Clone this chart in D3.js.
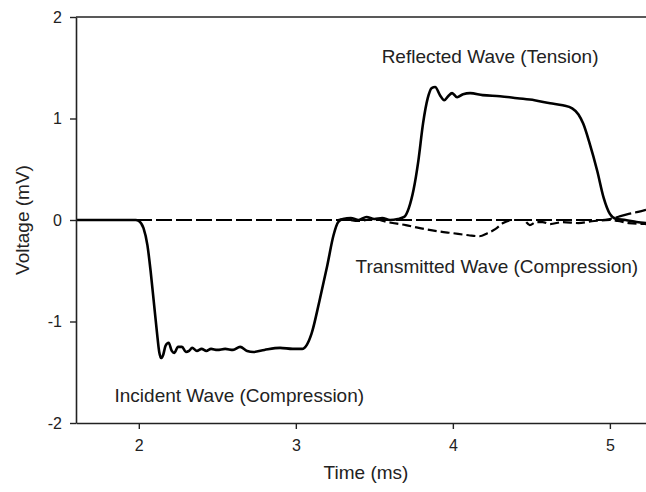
<html lang="en">

<head>
  <meta charset="utf-8">
  <title>Incident, reflected and transmitted waves</title>
  <script type="text/javascript" src="https://d3js.org/d3.v7.min.js"></script>
  <style>
    body { margin: 0; background: #fff; }
    text { font-family: Arial, "Liberation Sans", sans-serif; fill: #222; }
  </style>
</head>

<body>
  <svg width="646" height="492"></svg>
  <script>
    // incident bar gauge (incident + reflected pulse), solid
    const incidentTime = [1.6, 1.98, 2.0, 2.03, 2.055, 2.075, 2.095, 2.115, 2.13, 2.142, 2.155, 2.17, 2.19, 2.21, 2.225,
      2.25, 2.275, 2.3, 2.32, 2.34, 2.37, 2.4, 2.43, 2.46, 2.5, 2.55, 2.6, 2.645, 2.69, 2.73, 2.8, 2.9, 2.98, 3.04,
      3.07, 3.1, 3.15, 3.2, 3.24, 3.27, 3.3, 3.35, 3.4, 3.45, 3.5, 3.55, 3.6, 3.65, 3.69, 3.72, 3.75, 3.78, 3.81,
      3.84, 3.865, 3.887, 3.918, 3.945, 3.97, 3.995, 4.027, 4.065, 4.11, 4.19, 4.3, 4.41, 4.52, 4.62, 4.7, 4.76,
      4.8, 4.83, 4.87, 4.92, 4.96, 5.0, 5.04, 5.1, 5.17, 5.23];
    const incidentVolt = [0, 0, -0.01, -0.08, -0.25, -0.5, -0.8, -1.1, -1.3, -1.36, -1.33, -1.24, -1.21, -1.29, -1.31,
      -1.25, -1.25, -1.3, -1.29, -1.26, -1.29, -1.27, -1.29, -1.27, -1.28, -1.27, -1.28, -1.25, -1.29, -1.3, -1.28,
      -1.26, -1.27, -1.27, -1.23, -1.12, -0.8, -0.45, -0.15, -0.02, 0.01, 0.02, 0.0, 0.03, 0.01, 0.02, 0.0, 0.01,
      0.03, 0.12, 0.3, 0.58, 0.95, 1.2, 1.3, 1.31, 1.23, 1.18, 1.22, 1.25, 1.21, 1.24, 1.25, 1.23, 1.22, 1.2,
      1.18, 1.15, 1.13, 1.1, 1.04, 0.95, 0.76, 0.48, 0.22, 0.06, 0.01, 0.0, -0.02, -0.03];

    // transmitted bar gauge, long dashes
    const transTime = [1.6, 2.5, 3.5, 4.5, 4.95, 5.0, 5.05, 5.12, 5.18, 5.23];
    const transVolt = [0, 0, 0, 0, 0, 0.01, 0.03, 0.06, 0.08, 0.1];

    // second gauge, medium dashes
    const gauge2Time = [3.27, 3.3, 3.4, 3.5, 3.58, 3.7, 3.79, 3.9, 4.0, 4.1, 4.17, 4.22, 4.27, 4.32, 4.38,
      4.45, 4.49, 4.53, 4.57, 4.62, 4.7, 4.8, 4.9, 5.0, 5.05, 5.12, 5.23];
    const gauge2Volt = [0, 0.01, -0.01, 0.01, -0.02, -0.05, -0.08, -0.11, -0.13, -0.15, -0.16, -0.13, -0.09,
      -0.03, 0.0, 0.0, -0.05, -0.02, -0.02, -0.04, -0.02, -0.03, -0.01, 0.0, -0.01, -0.03, -0.04];

    const xTicks = [2, 3, 4, 5];
    const yTicks = [-2, -1, 0, 1, 2];

    const notes = [
      { text: "Reflected Wave (Tension)", t: 4.237, v: 1.55 },
      { text: "Transmitted Wave (Compression)", t: 4.28, v: -0.52 },
      { text: "Incident Wave (Compression)", t: 2.64, v: -1.79 }
    ];

    const plotLeft = 76, plotRight = 646, plotTop = 17, plotBottom = 423;
    const svg = d3.select("svg");

    const x = d3.scaleLinear().domain([1.6, 5.23]).range([plotLeft, plotRight]);
    const y = d3.scaleLinear().domain([-2, 2]).range([plotBottom, plotTop]);

    svg.append("clipPath").attr("id", "plot")
      .append("rect")
      .attr("x", plotLeft).attr("y", plotTop)
      .attr("width", plotRight - plotLeft).attr("height", plotBottom - plotTop);

    const line = d3.line()
      .x(d => x(d[0]))
      .y(d => y(d[1]))
      .curve(d3.curveMonotoneX);

    const series = [
      { t: gauge2Time, v: gauge2Volt, dash: "9,4", w: 2.2 },
      { t: transTime, v: transVolt, dash: "16,4", w: 2.2 },
      { t: incidentTime, v: incidentVolt, dash: null, w: 2.6 }
    ];

    svg.append("g").attr("clip-path", "url(#plot)")
      .selectAll("path")
      .data(series)
      .enter()
      .append("path")
      .attr("d", s => line(s.t.map((t, i) => [t, s.v[i]])))
      .attr("fill", "none")
      .attr("stroke", "#000")
      .attr("stroke-width", s => s.w)
      .attr("stroke-dasharray", s => s.dash)
      .attr("stroke-linejoin", "round");

    // axes
    const yAxis = svg.append("g")
      .attr("transform", `translate(${plotLeft},0)`)
      .call(d3.axisLeft(y).tickValues(yTicks).tickFormat(d => String(d))
        .tickSize(6).tickSizeOuter(0).tickPadding(8));

    const xAxis = svg.append("g")
      .attr("transform", `translate(0,${plotBottom})`)
      .call(d3.axisBottom(x).tickValues(xTicks).tickFormat(d => String(d))
        .tickSize(6).tickSizeOuter(0).tickPadding(11));

    [yAxis, xAxis].forEach(g => {
      g.select(".domain").attr("stroke", "#222").attr("stroke-width", 1.6);
      g.selectAll(".tick line").attr("stroke", "#222").attr("stroke-width", 1.4);
      g.selectAll(".tick text").style("font-size", "16px").attr("fill", "#222");
    });

    // top frame line
    svg.append("line")
      .attr("x1", plotLeft).attr("x2", plotRight)
      .attr("y1", plotTop).attr("y2", plotTop)
      .attr("stroke", "#222").attr("stroke-width", 1.6);

    svg.append("text")
      .attr("x", (plotLeft + plotRight) / 2 + 5)
      .attr("y", 479)
      .attr("text-anchor", "middle")
      .style("font-size", "19px")
      .text("Time (ms)");

    svg.append("text")
      .attr("transform", `translate(29,${(plotTop + plotBottom) / 2}) rotate(-90)`)
      .attr("text-anchor", "middle")
      .style("font-size", "19px")
      .text("Voltage (mV)");

    svg.selectAll(".note")
      .data(notes)
      .enter()
      .append("text")
      .attr("class", "note")
      .attr("x", d => x(d.t))
      .attr("y", d => y(d.v))
      .attr("text-anchor", "middle")
      .style("font-size", "19px")
      .text(d => d.text);
  </script>
</body>

</html>
